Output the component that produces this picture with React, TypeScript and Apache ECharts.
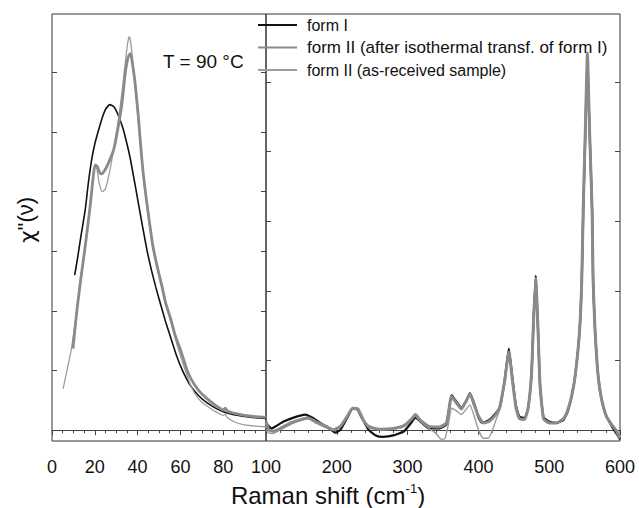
import React, { useEffect, useRef } from "react";
import * as echarts from "echarts";

const seriesNames = [
  "form I",
  "form II (after isothermal transf. of form I)",
  "form II (as-received sample)",
];

const leftXTicks = [0, 20, 40, 60, 80, 100];
const rightXTicks = [100, 200, 300, 400, 500, 600];
const leftYTicks = [0, 1, 2, 3, 4, 5, 6, 7];
const rightYTicks = [0, 1, 2, 3, 4, 5, 6];

// Left panel (0–100 cm-1), arbitrary units
const formILeft: number[][] = [
  [10.6, 2.6], [12, 2.9], [13.5, 3.25], [15.5, 3.69], [17, 4.15], [18.6, 4.55],
  [20, 4.8], [21.5, 5.0], [23.3, 5.22], [25, 5.38], [27, 5.46], [29, 5.42],
  [31, 5.28], [33, 5.08], [34.5, 4.88], [36.5, 4.57], [38.5, 4.18], [40.5, 3.78],
  [42.5, 3.38], [44.5, 3.0], [46.5, 2.68], [48.5, 2.4], [51, 2.08], [53, 1.83],
  [55.5, 1.55], [58.3, 1.24], [61, 1.0], [64.5, 0.76], [68, 0.6], [72, 0.47],
  [76, 0.38], [80, 0.31], [85, 0.26], [90, 0.23], [95, 0.21], [100, 0.2],
];
const formIIafterLeft: number[][] = [
  [9.8, 1.37], [11.6, 2.0], [13.5, 2.55], [15.5, 3.08], [17.8, 3.75], [19.4, 4.3],
  [20.2, 4.45], [21.2, 4.42], [22.3, 4.32], [23.3, 4.3], [24.5, 4.35], [26, 4.45],
  [28.8, 4.7], [30.5, 5.0], [32.7, 5.48], [34.2, 5.98], [35.5, 6.25], [36.6, 6.32],
  [38, 6.05], [39, 5.76], [40.5, 5.2], [41.5, 4.75], [42.5, 4.35], [44, 3.9],
  [45.5, 3.5], [47, 3.12], [48.5, 2.85], [50, 2.62], [51.5, 2.4], [53, 2.15],
  [55.2, 1.9], [57.5, 1.6], [60.6, 1.29], [63, 1.02], [65.3, 0.84], [68.5, 0.67],
  [72.4, 0.53], [76, 0.43], [80.1, 0.34], [81, 0.37], [82, 0.32], [86, 0.28],
  [90, 0.25], [95, 0.23], [100, 0.22],
];
const formIIasRecLeft: number[][] = [
  [5.2, 0.7], [7, 1.0], [9, 1.35], [11, 1.85], [13, 2.4], [15, 2.95], [17, 3.5],
  [18.8, 4.1], [20, 4.42], [21, 4.38], [22, 4.15], [23.5, 4.0], [25, 4.05],
  [27, 4.35], [29, 4.75], [31, 5.2], [33, 5.75], [34.5, 6.25], [35.5, 6.52],
  [36.1, 6.6], [36.8, 6.5], [38, 6.1], [39.5, 5.5], [41, 4.9], [42.5, 4.35],
  [44, 3.85], [45.5, 3.45], [47, 3.1], [48.5, 2.82], [50, 2.58], [51.5, 2.36],
  [53, 2.12], [55.2, 1.86], [57.5, 1.55], [60, 1.25], [62.5, 0.98], [64.5, 0.78],
  [67, 0.6], [70, 0.47], [73.9, 0.37], [77, 0.3], [80, 0.25], [81, 0.27],
  [82, 0.21], [86, 0.13], [90, 0.09], [95, 0.07], [100, 0.06],
];

// Right panel (100–600 cm-1), arbitrary units
const formIRight: number[][] = [
  [100, 0.1], [104, 0.05], [108, 0.02], [115, 0.06], [125, 0.12], [140, 0.18],
  [155, 0.22], [165, 0.18], [180, 0.08], [192, 0.0], [198, -0.04], [205, 0.0],
  [215, 0.18], [222, 0.3], [228, 0.3], [235, 0.18], [245, 0.0], [255, -0.08],
  [265, -0.1], [280, -0.08], [295, -0.02], [305, 0.1], [311, 0.18], [318, 0.12],
  [330, 0.02], [345, 0.02], [355, 0.08], [362, 0.5], [368, 0.42], [376, 0.32],
  [383, 0.42], [388, 0.53], [394, 0.38], [400, 0.18], [405, 0.1], [415, 0.14],
  [423, 0.22], [430, 0.32], [437, 0.7], [443, 1.17], [448, 0.75], [453, 0.35],
  [458, 0.19], [465, 0.17], [470, 0.3], [475, 0.8], [478, 1.6], [481, 2.22],
  [484, 1.5], [487, 0.65], [492, 0.18], [500, 0.12], [510, 0.1], [520, 0.14],
  [526, 0.26], [532, 0.5], [537, 0.8], [543, 1.44], [546, 2.16], [548, 3.1],
  [551, 4.25], [554, 5.35], [557, 4.3], [560.6, 3.16], [562, 2.16], [564.7, 1.44],
  [568, 0.9], [571.7, 0.57], [576, 0.35], [581, 0.19], [588, 0.06], [594, -0.04],
  [598, -0.1], [600, -0.14],
];
const formIIafterRight: number[][] = [
  [100, 0.12], [104, 0.0], [110, -0.02], [120, 0.02], [135, 0.1], [150, 0.15],
  [160, 0.17], [170, 0.12], [185, 0.05], [195, 0.0], [205, 0.05], [215, 0.2],
  [222, 0.31], [230, 0.3], [237, 0.15], [245, 0.05], [260, 0.01], [280, 0.02],
  [295, 0.06], [305, 0.15], [311, 0.22], [318, 0.14], [330, 0.05], [345, 0.04],
  [355, 0.1], [362, 0.48], [368, 0.4], [376, 0.3], [383, 0.42], [388, 0.52],
  [394, 0.36], [400, 0.2], [407, 0.1], [415, 0.12], [423, 0.2], [430, 0.32],
  [437, 0.7], [443, 1.12], [448, 0.72], [453, 0.32], [458, 0.16], [465, 0.15],
  [470, 0.3], [475, 0.8], [478, 1.6], [481, 2.18], [484, 1.5], [487, 0.65],
  [492, 0.16], [500, 0.1], [510, 0.1], [520, 0.16], [526, 0.28], [532, 0.5],
  [537, 0.8], [543, 1.44], [546, 2.16], [548, 3.16], [551, 4.3], [554, 5.42],
  [557, 4.3], [560.6, 3.16], [562, 2.16], [564.7, 1.44], [568, 0.9], [571.7, 0.57],
  [576, 0.35], [581, 0.19], [588, 0.08], [594, 0.0], [598, -0.08], [600, -0.12],
];
const formIIasRecRight: number[][] = [
  [100, 0.0], [105, -0.05], [110, -0.05], [120, 0.0], [135, 0.08], [150, 0.14],
  [160, 0.16], [170, 0.1], [185, 0.03], [195, -0.01], [205, 0.05], [215, 0.2],
  [222, 0.3], [230, 0.28], [237, 0.14], [245, 0.03], [260, 0.0], [280, 0.01],
  [295, 0.05], [305, 0.14], [311, 0.2], [318, 0.12], [330, 0.02], [340, -0.05],
  [348, -0.14], [353, -0.12], [358, 0.1], [362, 0.31], [368, 0.28], [376, 0.22],
  [383, 0.3], [388, 0.36], [394, 0.2], [400, 0.0], [407, -0.12], [414, -0.12],
  [420, 0.0], [425, 0.15], [432, 0.35], [437, 0.7], [443, 1.12], [448, 0.72],
  [453, 0.32], [458, 0.16], [465, 0.15], [470, 0.3], [475, 0.8], [478, 1.6],
  [481, 2.18], [484, 1.5], [487, 0.65], [492, 0.16], [500, 0.1], [510, 0.1],
  [520, 0.16], [526, 0.28], [532, 0.5], [537, 0.8], [543, 1.44], [546, 2.16],
  [548, 3.16], [551, 4.3], [554, 5.42], [557, 4.3], [560.6, 3.16], [562, 2.16],
  [564.7, 1.44], [568, 0.9], [571.7, 0.57], [576, 0.35], [581, 0.19], [588, 0.08],
  [594, 0.0], [598, -0.08], [600, -0.12],
];

const FONT = "'Liberation Sans', Arial, sans-serif";
const styles = [
  { color: "#111111", width: 1.6, widthR: 2.2, z: 3, legendFont: 16 },
  { color: "#8a8a8a", width: 2.8, widthR: 3.0, z: 5, legendFont: 17 },
  { color: "#9c9c9c", width: 1.3, widthR: 1.4, z: 4, legendFont: 16 },
];

export default function App() {
  const ref = useRef<HTMLDivElement>(null);
  useEffect(() => {
    document.body.style.margin = "0";
    if (!ref.current) return;
    const chart = echarts.init(ref.current, null, { renderer: "svg" });

    const xAxisCommon = (gridIndex: number, min: number, max: number, interval: number, split: number) => ({
      type: "value" as const,
      gridIndex,
      min,
      max,
      interval,
      axisLine: { show: true, lineStyle: { color: "#444", width: 1 } },
      axisTick: { show: true, inside: false, length: 5, lineStyle: { color: "#444" } },
      minorTick: { show: true, splitNumber: split, length: 3, lineStyle: { color: "#444" } },
      splitLine: { show: false },
      minorSplitLine: { show: false },
      axisLabel: {
        show: true,
        fontSize: 18,
        color: "#111",
        fontFamily: FONT,
        margin: 17,
        formatter: (v: number) => (gridIndex === 1 && v === 100 ? "" : String(v)),
      },
    });

    const yAxisCommon = (gridIndex: number, min: number, max: number, ticks: number[], position: "left" | "right") => ({
      type: "value" as const,
      gridIndex,
      min,
      max,
      position,
      axisLine: { show: false },
      axisTick: { show: true, inside: true, length: 5, customValues: ticks, lineStyle: { color: "#444" } },
      axisLabel: { show: false, customValues: ticks },
      splitLine: { show: false },
    });

    const series: any[] = [];
    const leftData = [formILeft, formIIafterLeft, formIIasRecLeft];
    const rightData = [formIRight, formIIafterRight, formIIasRecRight];
    [0, 1, 2].forEach((i) => {
      series.push({
        name: seriesNames[i],
        type: "line",
        xAxisIndex: 0,
        yAxisIndex: 0,
        data: leftData[i],
        symbol: "none",
        smooth: 0.2,
        z: styles[i].z,
        lineStyle: { color: styles[i].color, width: styles[i].width },
        itemStyle: { color: styles[i].color },
      });
      series.push({
        name: seriesNames[i],
        type: "line",
        xAxisIndex: 1,
        yAxisIndex: 2,
        data: rightData[i],
        symbol: "none",
        smooth: 0.15,
        z: styles[i].z,
        lineStyle: { color: styles[i].color, width: styles[i].widthR },
        itemStyle: { color: styles[i].color },
      });
    });

    chart.setOption({
      animation: false,
      backgroundColor: "#ffffff",
      grid: [
        { left: 52, top: 14, width: 214, height: 427, show: true, borderColor: "#333", borderWidth: 1, backgroundColor: "transparent" },
        { left: 266, top: 14, width: 354, height: 427, show: true, borderColor: "#333", borderWidth: 1, backgroundColor: "transparent" },
      ],
      xAxis: [
        xAxisCommon(0, leftXTicks[0], leftXTicks[leftXTicks.length - 1], 20, 4),
        xAxisCommon(1, rightXTicks[0], rightXTicks[rightXTicks.length - 1], 100, 5),
      ],
      yAxis: [
        yAxisCommon(0, -0.18, 6.98, leftYTicks, "left"),
        yAxisCommon(0, -0.18, 6.98, leftYTicks, "right"),
        yAxisCommon(1, -0.16, 5.98, rightYTicks, "left"),
        yAxisCommon(1, -0.16, 5.98, rightYTicks, "right"),
      ],
      legend: {
        orient: "vertical",
        left: 258,
        top: 17,
        itemWidth: 39,
        itemHeight: 2,
        itemGap: 6,
        padding: 0,
        data: seriesNames.map((n, i) => ({
          name: n,
          icon: "rect",
          itemStyle: { color: styles[i].color },
          textStyle: { fontSize: styles[i].legendFont },
        })),
        textStyle: { fontSize: 16, lineHeight: 16, color: "#111", fontFamily: FONT, padding: [0, 0, 0, 5] },
      },
      graphic: [
        {
          type: "text",
          left: 163,
          top: 52,
          style: { text: "T = 90 °C", fontSize: 19, fontFamily: FONT, fill: "#111" },
        },
        {
          type: "text",
          x: 25,
          y: 220,
          rotation: Math.PI / 2,
          style: {
            text: '{c|χ}{d|"(ν)}',
            align: "center",
            verticalAlign: "middle",
            rich: {
              c: { fontSize: 22, fontFamily: "'DejaVu Sans', sans-serif", fill: "#111", padding: [4, 0, 0, 0] },
              d: { fontSize: 22, fontFamily: FONT, fill: "#111" },
            },
          },
        },
        {
          type: "text",
          x: 328,
          y: 495,
          style: {
            text: "{a|Raman shift (cm}{b|-1}{a|)}",
            align: "center",
            verticalAlign: "middle",
            rich: {
              a: { fontSize: 24, fontFamily: FONT, fill: "#111" },
              b: { fontSize: 13, fontFamily: FONT, fill: "#111", padding: [0, 0, 13, 0] },
            },
          },
        },
      ],
      series,
    });
    return () => chart.dispose();
  }, []);
  return <div ref={ref} style={{ width: 639, height: 508 }} />;
}
